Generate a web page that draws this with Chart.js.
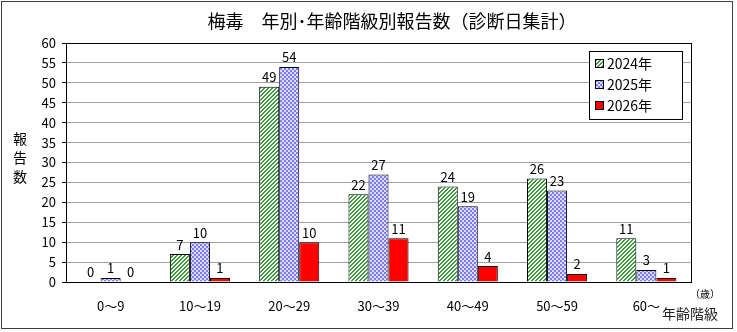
<!DOCTYPE html>
<html>
<head>
<meta charset="utf-8">
<script src="https://cdn.jsdelivr.net/npm/chart.js@4"></script>
<style>
  html, body { margin: 0; padding: 0; background: #fff; }
  #wrap { width: 737px; height: 332px; position: relative; }
</style>
</head>
<body>
<div id="wrap"><canvas id="chart" width="737" height="332"></canvas></div>
<script>
const AGE_GROUPS = ['0～9', '10～19', '20～29', '30～39', '40～49', '50～59', '60～'];
const Y2024 = [0, 7, 49, 22, 24, 26, 11];
const Y2025 = [1, 10, 54, 27, 19, 23, 3];
const Y2026 = [0, 1, 10, 11, 4, 2, 1];
const SERIES_LABELS = ['2024年', '2025年', '2026年'];
const Y_TICKS = [0, 5, 10, 15, 20, 25, 30, 35, 40, 45, 50, 55, 60];

const TITLE = '梅毒　年別･年齢階級別報告数（診断日集計）';
const FONT = '"Noto Sans CJK JP", "Noto Sans", sans-serif';

function stripePattern() {
  const c = document.createElement('canvas');
  c.width = 4; c.height = 4;
  const g = c.getContext('2d');
  g.fillStyle = '#fff';
  g.fillRect(0, 0, 4, 4);
  g.fillStyle = '#3c9a3c';
  for (let i = 0; i < 4; i++) {
    g.fillRect((3 - i + 4) % 4, i, 1, 1);
    g.fillRect((4 - i + 4) % 4, i, 1, 1);
  }
  return g.createPattern(c, 'repeat');
}

function checkerPattern() {
  const c = document.createElement('canvas');
  c.width = 4; c.height = 4;
  const g = c.getContext('2d');
  g.fillStyle = '#dcdcfc';
  g.fillRect(0, 0, 4, 4);
  g.fillStyle = '#7c7cf0';
  g.fillRect(0, 0, 2, 2);
  g.fillRect(2, 2, 2, 2);
  return g.createPattern(c, 'repeat');
}

const fills = [stripePattern(), checkerPattern(), '#ff0000'];

// frame, title, y title, unit text, plot border
const decorations = {
  id: 'decorations',
  afterDraw(chart) {
    const { ctx, chartArea: a } = chart;
    ctx.save();
    ctx.strokeStyle = '#000';
    ctx.lineWidth = 1;
    ctx.strokeRect(a.left + 0.5, a.top + 0.5, a.right - a.left, a.bottom - a.top);

    ctx.strokeStyle = '#404040';
    ctx.strokeRect(1.5, 1.5, 731, 327);

    ctx.fillStyle = '#000';
    ctx.font = `18px ${FONT}`;
    ctx.textAlign = 'center';
    ctx.textBaseline = 'middle';
    ctx.fillText(TITLE, 392, 21);

    ctx.font = `14px ${FONT}`;
    ['報', '告', '数'].forEach((ch, i) => ctx.fillText(ch, 20, 139 + i * 19));

    ctx.font = `10px ${FONT}`;
    ctx.fillText('（歳）', 705, 294);
    ctx.font = `14px ${FONT}`;
    ctx.fillStyle = '#222';
    ctx.fillText('年齢階級', 690, 314);
    ctx.restore();
  },
};

const valueLabels = {
  id: 'valueLabels',
  afterDatasetsDraw(chart) {
    const { ctx } = chart;
    ctx.save();
    ctx.fillStyle = '#000';
    ctx.font = `13px ${FONT}`;
    ctx.textAlign = 'center';
    ctx.textBaseline = 'bottom';
    chart.data.datasets.forEach((ds, di) => {
      chart.getDatasetMeta(di).data.forEach((bar, i) => {
        ctx.fillText(String(ds.data[i]), bar.x, bar.y - 3);
      });
    });
    ctx.restore();
  },
};

const boxLegend = {
  id: 'boxLegend',
  afterDraw(chart) {
    const { ctx } = chart;
    const x = 589, y = 51, w = 93, h = 68;
    ctx.save();
    ctx.fillStyle = '#fff';
    ctx.fillRect(x, y, w, h);
    ctx.strokeStyle = '#000';
    ctx.lineWidth = 1;
    ctx.strokeRect(x + 0.5, y + 0.5, w, h);
    ctx.font = `14px ${FONT}`;
    ctx.textBaseline = 'middle';
    chart.data.datasets.forEach((ds, i) => {
      const cy = y + 12 + i * 21;
      ctx.fillStyle = ds.backgroundColor;
      ctx.fillRect(x + 6, cy - 4, 9, 9);
      ctx.strokeStyle = '#000';
      ctx.strokeRect(x + 6.5, cy - 3.5, 8, 8);
      ctx.fillStyle = '#000';
      ctx.fillText(ds.label, x + 18, cy + 1);
    });
    ctx.restore();
  },
};

new Chart(document.getElementById('chart'), {
  type: 'bar',
  data: {
    labels: AGE_GROUPS,
    datasets: [Y2024, Y2025, Y2026].map((d, i) => ({
      label: SERIES_LABELS[i],
      data: d,
      backgroundColor: fills[i],
      borderColor: '#000',
      borderWidth: 1,
      borderSkipped: 'bottom',
      categoryPercentage: 0.673,
      barPercentage: 1,
    })),
  },
  options: {
    responsive: false,
    animation: false,
    layout: { padding: { left: 0, top: 43, right: 46, bottom: 0 } },
    plugins: { legend: { display: false }, tooltip: { enabled: false }, title: { display: false } },
    scales: {
      x: {
        grid: { display: false },
        border: { display: false },
        ticks: { color: '#000', font: { family: FONT, size: 13 }, padding: 8 },
        afterFit: (s) => { s.height = 50; },
      },
      y: {
        min: 0,
        max: 60,
        afterBuildTicks: (s) => { s.ticks = Y_TICKS.map((v) => ({ value: v })); },
        grid: { color: '#a0a0a0', tickColor: '#000', tickLength: 4 },
        border: { display: false },
        ticks: { color: '#000', font: { family: FONT, size: 13 }, padding: 6 },
        afterFit: (s) => { s.width = 66; },
      },
    },
  },
  plugins: [decorations, valueLabels, boxLegend],
});
</script>
</body>
</html>
